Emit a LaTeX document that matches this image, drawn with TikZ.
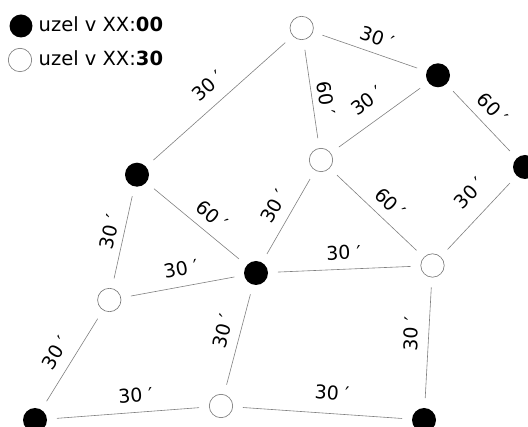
\documentclass[tikz,border=0pt]{standalone}
\usepackage{fontspec}
\setmainfont{DejaVu Sans}
\definecolor{linegray}{gray}{0.5}
\definecolor{nodegray}{gray}{0.45}
\begin{document}
\begin{tikzpicture}[x=1pt,y=-1pt,
  blk/.style={circle,fill=black,draw=none,minimum size=24pt,inner sep=0pt},
  wht/.style={circle,fill=white,draw=nodegray,line width=0.6pt,minimum size=23.4pt,inner sep=0pt},
  link/.style={draw=linegray,line width=0.6pt,shorten <=22pt,shorten >=22pt},
  lbl/.style={sloped,inner sep=0pt,font=\fontsize{19}{19}\selectfont},
  legtxt/.style={anchor=base west,inner sep=0pt,font=\fontsize{19.5}{20}\selectfont}]
\useasboundingbox (0,0) rectangle (528,427);
% legend
\node[blk,minimum size=23pt] (k1) at (21,26) {};
\node[wht] (k2) at (20,60) {};
\node[legtxt] (t1) at (38.5,32) {uzel v XX:\textbf{00}};
\node[legtxt] (t2) at (38.5,66) {uzel v XX:\textbf{30}};
% nodes
\node[wht] (A) at (301.7,28) {};
\node[blk] (B) at (438,75.3) {};
\node[blk] (C) at (525,167) {};
\node[wht] (D) at (321,160) {};
\node[blk] (E) at (137,174.7) {};
\node[blk] (F) at (256,273) {};
\node[wht] (G) at (432.5,265.5) {};
\node[wht] (H) at (109.3,300) {};
\node[blk] (I) at (35,420) {};
\node[wht] (J) at (221,406) {};
\node[blk] (K) at (424,420) {};
% connectors
\path[link] (A.center) -- node[lbl,pos=0.515,above=8.1pt]{30 ′} (B.center);
\path[link] (E.center) -- node[lbl,pos=0.507,above=11.6pt]{30 ′} (A.center);
\path[link] (A.center) -- node[lbl,pos=0.547,above=6.5pt]{60 ′} (D.center);
\path[link] (D.center) -- node[lbl,pos=0.50,above=13.8pt]{30 ′} (B.center);
\path[link] (B.center) -- node[lbl,pos=0.486,above=9.6pt]{60 ′} (C.center);
\path[link] (G.center) -- node[lbl,pos=0.58,above=15.2pt]{30 ′} (C.center);
\path[link] (F.center) -- node[lbl,pos=0.51,above=10.2pt]{30 ′} (D.center);
\path[link] (D.center) -- node[lbl,pos=0.52,above=9pt]{60 ′} (G.center);
\path[link] (E.center) -- node[lbl,pos=0.54,above=9pt]{60 ′} (F.center);
\path[link] (H.center) -- node[lbl,pos=0.52,above=7.1pt]{30 ′} (E.center);
\path[link] (H.center) -- node[lbl,pos=0.51,above=10.5pt]{30 ′} (F.center);
\path[link] (F.center) -- node[lbl,pos=0.50,above=9pt]{30 ′} (G.center);
\path[link] (J.center) -- node[lbl,pos=0.53,above=9.7pt]{30 ′} (F.center);
\path[link] (K.center) -- node[lbl,pos=0.55,above=10pt]{30 ′} (G.center);
\path[link] (I.center) -- node[lbl,pos=0.48,above=10.5pt]{30 ′} (H.center);
\path[link] (I.center) -- node[lbl,pos=0.547,above=9.7pt]{30 ′} (J.center);
\path[link] (J.center) -- node[lbl,pos=0.54,above=13.4pt]{30 ′} (K.center);
\end{tikzpicture}
\end{document}
